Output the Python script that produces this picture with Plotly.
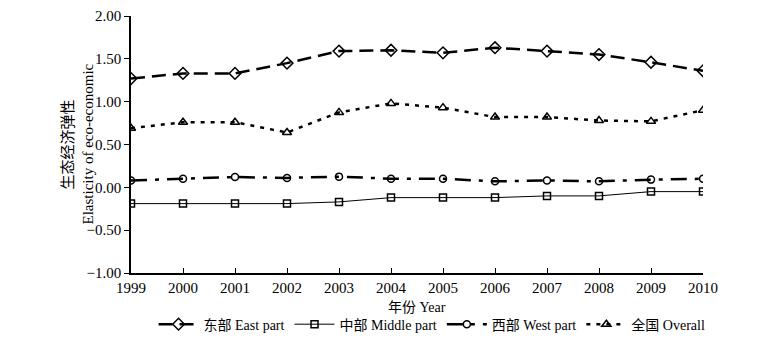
import plotly.graph_objects as go

years = [1999, 2000, 2001, 2002, 2003, 2004, 2005, 2006, 2007, 2008, 2009, 2010]
east = [1.27, 1.33, 1.33, 1.45, 1.59, 1.60, 1.57, 1.63, 1.59, 1.55, 1.46, 1.36]
middle = [-0.19, -0.19, -0.19, -0.19, -0.17, -0.12, -0.12, -0.12, -0.10, -0.10, -0.05, -0.05]
west = [0.08, 0.10, 0.12, 0.11, 0.125, 0.10, 0.10, 0.07, 0.08, 0.07, 0.09, 0.10]
overall = [0.69, 0.76, 0.76, 0.64, 0.875, 0.98, 0.93, 0.82, 0.82, 0.78, 0.77, 0.90]

names = ["东部 East part", "中部 Middle part", "西部 West part", "全国 Overall"]
yticks = [-1.0, -0.5, 0.0, 0.5, 1.0, 1.5, 2.0]
ytext = ["\u22121.00", "\u22120.50", "0.00", "0.50", "1.00", "1.50", "2.00"]

FONT = "Liberation Serif, Noto Sans CJK SC, serif"

fig = go.Figure()
series = [
    (east, names[0], "diamond-open", 9, dict(width=2.5, dash="14px,7px")),
    (middle, names[1], "square-open", 7, dict(width=1, dash="solid")),
    (west, names[2], "circle-open", 7, dict(width=2.5, dash="16px,8px,4px,8px")),
    (overall, names[3], "triangle-up-open", 8, dict(width=2.5, dash="4px,6px")),
]
for vals, nm, sym, sz, ln in series:
    fig.add_trace(go.Scatter(
        x=years, y=vals, name=nm, mode="lines+markers",
        line=dict(color="black", **ln),
        marker=dict(symbol=sym, size=sz, color="black", line=dict(width=1.5, color="black")),
    ))

fig.update_layout(
    width=771, height=335,
    margin=dict(l=123, r=76, t=8, b=70, autoexpand=False),
    paper_bgcolor="white", plot_bgcolor="white",
    font=dict(family=FONT, size=14, color="black"),
    showlegend=True,
    legend=dict(orientation="h", x=0.55, xanchor="center", xref="container",
                y=0.055, yanchor="middle", yref="container",
                font=dict(size=14), itemwidth=40, tracegroupgap=0, bgcolor="rgba(0,0,0,0)"),
    annotations=[
        dict(text="生态经济弹性", xref="paper", yref="paper", x=0, y=0.5,
             xanchor="center", yanchor="middle",
             xshift=-64, textangle=-90, showarrow=False, font=dict(size=15)),
        dict(text="Elasticity of eco-economic", xref="paper", yref="paper", x=0, y=0.5,
             xanchor="center", yanchor="middle",
             xshift=-44, textangle=-90, showarrow=False, font=dict(size=15)),
        dict(text="年份 Year", xref="paper", yref="paper", x=0.5, y=0,
             yshift=-34, yanchor="middle", showarrow=False, font=dict(size=14)),
    ],
)
fig.update_xaxes(
    range=[1999, 2010], tickmode="array", tickvals=years,
    showline=True, linecolor="black", linewidth=1.5,
    ticks="inside", ticklen=5, tickcolor="black", showgrid=False, zeroline=False,
    tickfont=dict(size=15),
)
fig.update_yaxes(
    range=[-1.0, 2.0], tickmode="array", tickvals=yticks, ticktext=ytext,
    showline=True, linecolor="black", linewidth=1.5,
    ticks="outside", ticklen=5, tickcolor="black", showgrid=False, zeroline=False,
    tickfont=dict(size=15),
)
fig.write_html("out.html")
